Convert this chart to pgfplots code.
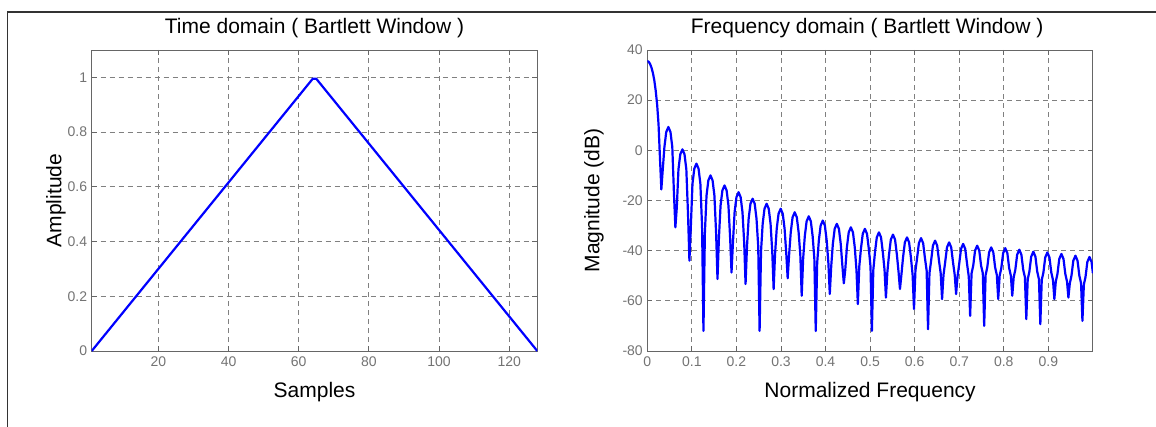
\documentclass[border=0pt]{standalone}
\usepackage{fontspec}
\setmainfont{Liberation Sans}
\usepackage{pgfplots}
\pgfplotsset{compat=1.18}
\begin{document}
\begin{tikzpicture}
\path[use as bounding box] (0pt,0pt) rectangle (1156pt,426pt);
\draw[line width=1.3pt, black!80] (7.3pt,-2pt) -- (7.3pt,414pt) -- (1160pt,414pt);
\pgfplotsset{
 myax/.style={
  scale only axis, width=445.6pt, height=301pt, anchor=south west,
  axis line style={black!60, line width=0.9pt},
  tick align=inside, major tick length=5pt,
  every tick/.style={black!60, line width=0.8pt},
  grid=major,
  major grid style={dash pattern=on 5pt off 4pt, black!50, line width=0.8pt},
  ticklabel style={font=\fontsize{14}{16}\selectfont, text=black!55},
  xticklabel style={yshift=-2pt},
  yticklabel style={xshift=-1pt},
  label style={font=\fontsize{21}{24}\selectfont},
  title style={font=\fontsize{21}{24}\selectfont, at={(axis description cs:0.5,1)}, anchor=base, yshift=10pt},
  xlabel style={at={(axis description cs:0.5,0)}, anchor=base, yshift=-46pt},
 }}
\begin{axis}[myax, at={(91.7pt,75pt)},
  xmin=1, xmax=128, ymin=0, ymax=1.1,
  xtick={20,40,60,80,100,120}, xticklabels={20,40,60,80,100,120},
  ytick={0,0.2,0.4,0.6,0.8,1}, yticklabels={0,0.2,0.4,0.6,0.8,1},
  title={Time domain ( Bartlett Window )},
  xlabel={Samples}, ylabel={Amplitude},
  ylabel style={at={(axis description cs:-0.0801,0.5)}, anchor=center},
]
\addplot[blue, line width=2.2pt, line join=round] coordinates {(1,0) (64,0.995) (65,0.995) (128,0)};
\end{axis}
\begin{axis}[myax, at={(647.3pt,75pt)},
  xmin=0, xmax=1, ymin=-80, ymax=40,
  xtick={0,0.1,0.2,0.3,0.4,0.5,0.6,0.7,0.8,0.9}, xticklabels={0,0.1,0.2,0.3,0.4,0.5,0.6,0.7,0.8,0.9},
  ytick={-80,-60,-40,-20,0,20,40}, yticklabels={-80,-60,-40,-20,0,20,40},
  title={Frequency domain ( Bartlett Window )},
  title style={xshift=-3pt},
  xlabel={Normalized Frequency}, ylabel={Magnitude (dB)},
  ylabel style={at={(axis description cs:-0.1196,0.5)}, anchor=center},
]
\addplot[blue, line width=2.2pt, line join=round] coordinates {
(0,35.6)(0.0032,35.3)(0.0063,34.4)(0.0095,32.9)(0.0126,30.8)(0.0158,27.8)(0.0189,23.7)(0.0221,18.2)(0.0252,10.4)(0.0284,-3)(0.0315,-15.6)
(0.0347,-7.6)(0.0384,1.3)(0.0425,7.3)(0.0473,9.3)(0.0520,7.3)(0.0561,1.3)(0.0599,-17.7)(0.0630,-30.7)
(0.0662,-22.7)(0.0699,-7.6)(0.0740,-1.6)(0.0788,0.4)(0.0835,-1.6)(0.0876,-7.6)(0.0914,-25.6)(0.0945,-44)
(0.0977,-30.3)(0.1014,-13.3)(0.1055,-7.3)(0.1103,-5.3)(0.1150,-7.3)(0.1191,-13.3)(0.1229,-30.3)(0.1260,-72)
(0.1292,-33)(0.1329,-18)(0.1370,-12)(0.1418,-10)(0.1465,-12)(0.1506,-18)(0.1544,-33)(0.1575,-51.3)
(0.1607,-35)(0.1644,-22)(0.1685,-16)(0.1733,-14)(0.1780,-16)(0.1821,-22)(0.1859,-35)(0.1890,-48.7)
(0.1922,-36.7)(0.1959,-24.7)(0.2000,-18.7)(0.2048,-16.7)(0.2095,-18.7)(0.2136,-24.7)(0.2174,-36.7)(0.2205,-53.3)
(0.2237,-38.3)(0.2274,-27.3)(0.2315,-21.3)(0.2363,-19.3)(0.2410,-21.3)(0.2451,-27.3)(0.2489,-38.3)(0.2520,-72)
(0.2552,-40.3)(0.2589,-29.3)(0.2630,-23.3)(0.2678,-21.3)(0.2725,-23.3)(0.2766,-29.3)(0.2804,-40.3)(0.2835,-55.3)
(0.2867,-41.3)(0.2904,-31.3)(0.2945,-25.3)(0.2993,-23.3)(0.3040,-25.3)(0.3081,-31.3)(0.3119,-41.3)(0.3150,-51)
(0.3182,-41.7)(0.3219,-32.7)(0.3260,-26.7)(0.3308,-24.7)(0.3355,-26.7)(0.3396,-32.7)(0.3434,-41.7)(0.3465,-58)
(0.3497,-43.3)(0.3534,-34.3)(0.3575,-28.3)(0.3623,-26.3)(0.3670,-28.3)(0.3711,-34.3)(0.3749,-43.3)(0.3780,-72)
(0.3812,-45)(0.3849,-36)(0.3890,-30)(0.3938,-28)(0.3985,-30)(0.4026,-36)(0.4064,-45)(0.4095,-57.3)
(0.4127,-46.3)(0.4164,-37.3)(0.4205,-31.3)(0.4253,-29.3)(0.4300,-31.3)(0.4341,-37.3)(0.4379,-46.3)(0.4410,-53)
(0.4442,-47.7)(0.4479,-38.7)(0.4520,-32.7)(0.4568,-30.7)(0.4615,-32.7)(0.4656,-38.7)(0.4694,-47.7)(0.4725,-61.3)
(0.4757,-46.3)(0.4794,-39.3)(0.4835,-33.3)(0.4883,-31.3)(0.4930,-33.3)(0.4971,-39.3)(0.5009,-46.3)(0.5040,-72)
(0.5072,-47.7)(0.5109,-40.7)(0.5150,-34.7)(0.5198,-32.7)(0.5245,-34.7)(0.5286,-40.7)(0.5324,-47.7)(0.5355,-58.7)
(0.5387,-48.6)(0.5424,-41.6)(0.5465,-35.6)(0.5513,-33.6)(0.5560,-35.6)(0.5601,-41.6)(0.5639,-48.6)(0.5670,-55.3)
(0.5702,-49.7)(0.5739,-42.7)(0.5780,-36.7)(0.5828,-34.7)(0.5875,-36.7)(0.5916,-42.7)(0.5954,-49.7)(0.5985,-63.3)
(0.6017,-48)(0.6054,-43)(0.6095,-37)(0.6143,-35)(0.6190,-37)(0.6231,-43)(0.6269,-48)(0.6300,-71.3)
(0.6332,-49)(0.6369,-44)(0.6410,-38)(0.6458,-36)(0.6505,-38)(0.6546,-44)(0.6584,-49)(0.6615,-59.3)
(0.6647,-49.7)(0.6684,-44.7)(0.6725,-38.7)(0.6773,-36.7)(0.6820,-38.7)(0.6861,-44.7)(0.6899,-49.7)(0.6930,-57.3)
(0.6962,-50.3)(0.6999,-45.3)(0.7040,-39.3)(0.7088,-37.3)(0.7135,-39.3)(0.7176,-45.3)(0.7214,-50.3)(0.7245,-66)
(0.7277,-49)(0.7314,-46)(0.7355,-40)(0.7403,-38)(0.7450,-40)(0.7491,-46)(0.7529,-49)(0.7560,-70)
(0.7592,-49.7)(0.7629,-46.7)(0.7670,-40.7)(0.7718,-38.7)(0.7765,-40.7)(0.7806,-46.7)(0.7844,-49.7)(0.7875,-59.3)
(0.7907,-50)(0.7944,-47)(0.7985,-41)(0.8033,-39)(0.8080,-41)(0.8121,-47)(0.8159,-50)(0.8190,-58)
(0.8222,-50.6)(0.8259,-47.6)(0.8300,-41.6)(0.8348,-39.6)(0.8395,-41.6)(0.8436,-47.6)(0.8474,-50.6)(0.8505,-67.3)
(0.8537,-51.4)(0.8574,-48.4)(0.8615,-42.4)(0.8663,-40.4)(0.8710,-42.4)(0.8751,-48.4)(0.8789,-51.4)(0.8820,-69.3)
(0.8852,-51.7)(0.8889,-48.7)(0.8930,-42.7)(0.8978,-40.7)(0.9025,-42.7)(0.9066,-48.7)(0.9104,-51.7)(0.9135,-59.3)
(0.9167,-52.3)(0.9204,-49.3)(0.9245,-43.3)(0.9293,-41.3)(0.9340,-43.3)(0.9381,-49.3)(0.9419,-52.3)(0.9450,-58.7)
(0.9482,-53)(0.9519,-50)(0.9560,-44)(0.9608,-42)(0.9655,-44)(0.9696,-50)(0.9734,-53)(0.9765,-68)
(0.9797,-53.5)(0.9834,-50.5)(0.9875,-44.5)(0.9923,-42.5)(0.9970,-44.5)(1.0,-49)
};
\end{axis}
\end{tikzpicture}
\end{document}
